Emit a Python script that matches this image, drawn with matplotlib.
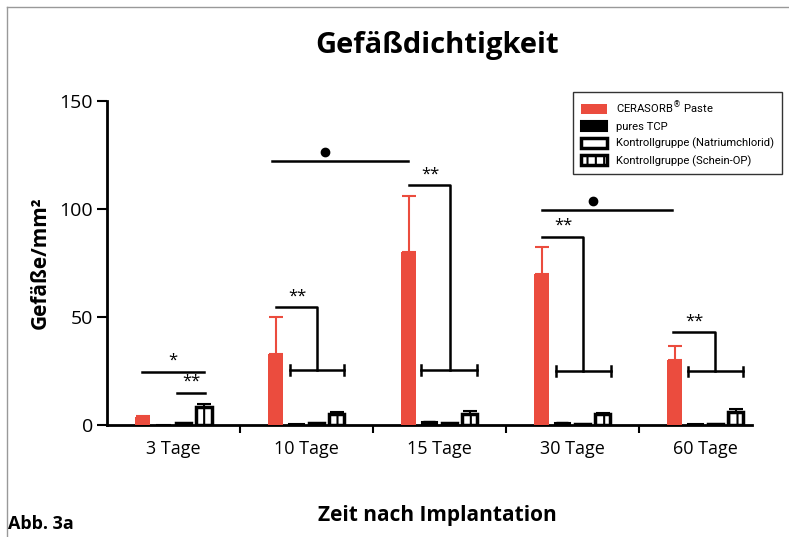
import matplotlib.pyplot as plt
import numpy as np

plt.rcParams['font.family'] = ['Open Sans', 'DejaVu Sans']
plt.rcParams['hatch.linewidth'] = 1.5

# daten
tage = ['3 Tage', '10 Tage', '15 Tage', '30 Tage', '60 Tage']
cerasorb = [3.5, 33, 80, 70, 30]
cerasorb_err = [0.5, 17, 26, 12.5, 6.5]
tcp = [0, 0.5, 1.5, 1.0, 0.5]
tcp_err = [0, 0, 0.3, 0.3, 0]
nacl = [1.0, 1.0, 0.8, 0.5, 0.5]
nacl_err = [0.3, 0.2, 0.2, 0.2, 0.2]
schein = [8.3, 5.0, 5.0, 5.0, 6.0]
schein_err = [1.5, 1.0, 1.5, 0.6, 1.5]

# signifikanz: (x1, x2, y, text)
linien = [(-0.24, 0.23, 24.6, '*'), (0.03, 0.24, 14.9, '**')]
punkt_linien = [(0.74, 1.76, 122.3), (2.77, 3.75, 99.7)]
# klammer: (x links, x knick, y oben, x1 unten, x2 unten, y unten)
klammern = [(0.77, 1.076, 54.6, 0.875, 1.28, 25.4),
            (1.77, 2.08, 111, 1.863, 2.285, 25.4),
            (2.77, 3.08, 87.2, 2.876, 3.29, 25.0),
            (3.76, 4.075, 42.8, 3.867, 4.283, 24.8)]

rot = '#EB4C3E'
x = np.arange(len(tage))
w = 0.113
d = 0.153

fig = plt.figure(figsize=(7.89, 5.37), dpi=100)
ax = fig.add_axes([0.1356, 0.2086, 0.8174, 0.6036])

ax.bar(x - 1.5*d, cerasorb, w, color=rot, label='CERASORB$^{\\circledR}$ Paste', zorder=3)
ax.errorbar(x - 1.5*d, cerasorb, yerr=[np.zeros(5), cerasorb_err], fmt='none',
            ecolor=rot, elinewidth=1.5, capsize=5, capthick=1.5, zorder=2)
ax.bar(x - 0.5*d, tcp, w, color='black', edgecolor='black', linewidth=1.5,
       label='pures TCP', zorder=3)
ax.errorbar(x - 0.5*d, tcp, yerr=[np.zeros(5), tcp_err], fmt='none',
            ecolor='black', elinewidth=1.5, capsize=4, zorder=2)
ax.bar(x + 0.5*d, nacl, w, color='white', edgecolor='black', linewidth=2.5,
       label='Kontrollgruppe (Natriumchlorid)', zorder=3)
ax.bar(x + 1.5*d, schein, w, color='white', edgecolor='black', linewidth=2.5,
       hatch='||', label='Kontrollgruppe (Schein-OP)', zorder=3)
ax.errorbar(x + 1.5*d, schein, yerr=[np.zeros(5), schein_err], fmt='none',
            ecolor='black', elinewidth=1.5, capsize=5, capthick=1.5, zorder=2)

# annotationen
for x1, x2, y, t in linien:
    ax.plot([x1, x2], [y, y], color='black', lw=1.8)
    ax.text((x1 + x2)/2, y + 1.5, t, ha='center', va='bottom', fontsize=12)
for x1, x2, y in punkt_linien:
    ax.plot([x1, x2], [y, y], color='black', lw=1.8)
    ax.plot(x1 + 0.39*(x2 - x1), y + 4, 'o', color='black', ms=6)
for xl, xk, yo, xa, xb, yu in klammern:
    ax.plot([xl, xk, xk], [yo, yo, yu], color='black', lw=1.8)
    ax.plot([xa, xb], [yu, yu], color='black', lw=1.8)
    ax.plot([xa, xa], [yu - 2.2, yu + 2.2], color='black', lw=1.8)
    ax.plot([xb, xb], [yu - 2.2, yu + 2.2], color='black', lw=1.8)
    ax.text(xl + 0.16, yo + 1.2, '**', ha='center', va='bottom', fontsize=12)

ax.set_xlim(-0.5, 4.35)
ax.set_ylim(0, 150)
ax.set_yticks([0, 50, 100, 150])
ax.set_xticks(x)
ax.set_xticklabels(tage, fontsize=13)
ax.set_xticks(np.arange(0.5, 4, 1), minor=True)
ax.tick_params(axis='x', which='major', length=0, pad=11)
ax.tick_params(axis='x', which='minor', length=6, width=1.5, direction='out')
ax.tick_params(axis='y', labelsize=14, length=7, width=1.5, pad=3)
for s in ['top', 'right']:
    ax.spines[s].set_visible(False)
ax.spines['left'].set_linewidth(2)
ax.spines['bottom'].set_linewidth(2)

ax.set_ylabel('Gefäße/mm²', fontsize=15, fontweight='bold', labelpad=6)
fig.text(0.554, 0.915, 'Gefäßdichtigkeit', ha='center', va='center',
         fontsize=21, fontweight='bold')
fig.text(0.554, 0.04, 'Zeit nach Implantation', ha='center', va='center',
         fontsize=15, fontweight='bold')
fig.text(0.01, 0.025, 'Abb. 3a', ha='left', va='center', fontsize=13,
         fontweight='bold')

leg = ax.legend(loc='upper left', bbox_to_anchor=(0.719, 0.84), bbox_transform=fig.transFigure,
                prop={'family': ['Roboto', 'DejaVu Sans'], 'size': 8.1},
                frameon=True, fancybox=False, edgecolor='black',
                handlelength=2.3, handleheight=1.0, handletextpad=0.8,
                borderpad=0.7, labelspacing=0.5)
leg.get_frame().set_linewidth(1)

# grauer rahmen
fig.add_artist(plt.Line2D([0.009, 1.0], [0.987, 0.987], color='#999999', lw=1))
fig.add_artist(plt.Line2D([0.009, 0.009], [0.0, 0.987], color='#999999', lw=1))

fig.savefig('out.png', dpi=100)
